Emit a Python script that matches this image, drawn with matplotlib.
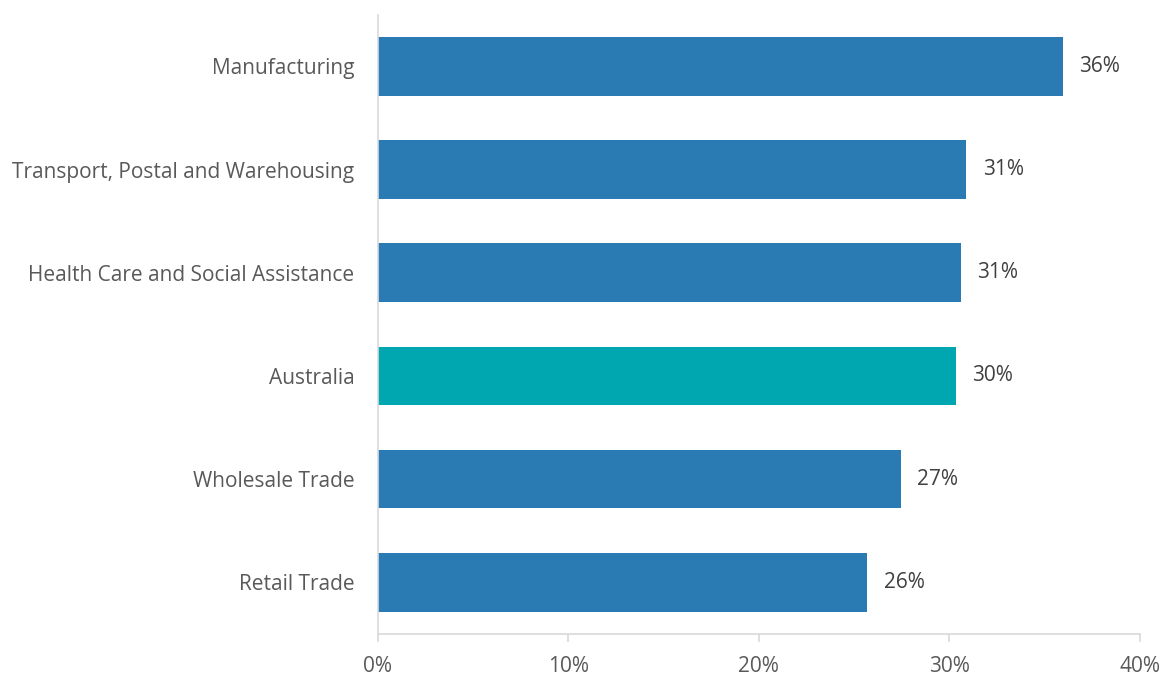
import matplotlib.pyplot as plt
from matplotlib.ticker import FuncFormatter

# share of workers by industry (percent)
industries = ["Manufacturing", "Transport, Postal and Warehousing",
              "Health Care and Social Assistance", "Australia",
              "Wholesale Trade", "Retail Trade"]
shares = [35.95, 30.9, 30.6, 30.35, 27.45, 25.7]
bar_colors = ["#2A7AB3", "#2A7AB3", "#2A7AB3", "#00A7B0", "#2A7AB3", "#2A7AB3"]

plt.rcParams['font.family'] = ['Open Sans', 'DejaVu Sans']

fig, ax = plt.subplots(figsize=(11.63, 6.75), dpi=100)
fig.subplots_adjust(left=0.325, right=0.980, top=0.978, bottom=0.061)

ypos = list(range(len(industries)))[::-1]
ax.barh(ypos, shares, height=0.57, color=bar_colors)

for y, v in zip(ypos, shares):
    ax.text(v + 0.85, y, f"{v:.0f}%", va='center', ha='left',
            fontsize=15, color='#404040')

ax.set_xlim(0, 40)
ax.set_ylim(-0.5, 5.5)
ax.set_yticks(ypos)
ax.set_yticklabels(industries, fontsize=15, color='#595959')
ax.set_xticks([0, 10, 20, 30, 40])
ax.xaxis.set_major_formatter(FuncFormatter(lambda x, _: f"{x:.0f}%"))
ax.tick_params(axis='x', labelsize=15, labelcolor='#595959', color='#D9D9D9',
               length=6, width=1.2, pad=10)
ax.tick_params(axis='y', length=0, pad=17)

for side in ['top', 'right']:
    ax.spines[side].set_visible(False)
for side in ['left', 'bottom']:
    ax.spines[side].set_color('#D9D9D9')
    ax.spines[side].set_linewidth(1.2)

plt.savefig("out.png", dpi=100)
